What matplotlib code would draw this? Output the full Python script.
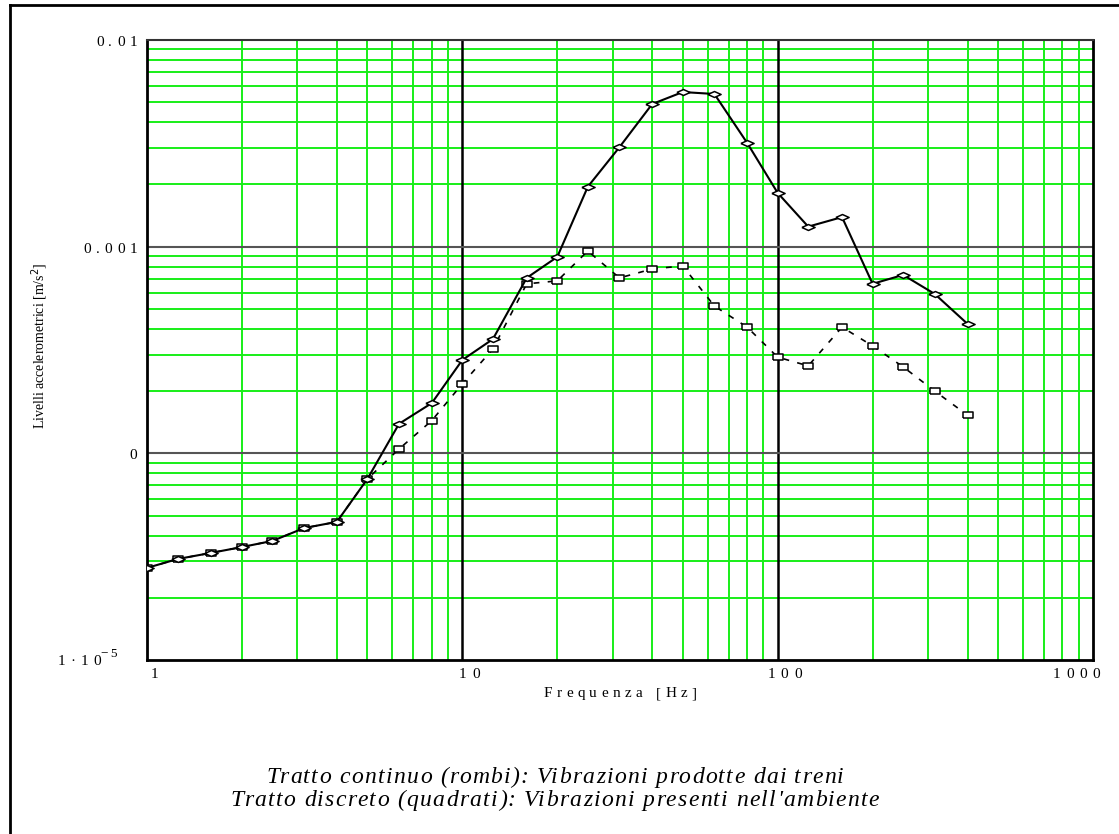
import matplotlib
matplotlib.use("Agg")
import matplotlib.pyplot as plt
from matplotlib.lines import Line2D
from matplotlib.transforms import IdentityTransform
from matplotlib.font_manager import FontProperties
from matplotlib.ticker import FixedLocator, NullFormatter

freq = [1, 1.25, 1.6, 2, 2.5, 3.15, 4, 5, 6.3, 8, 10, 12.5, 16, 20, 25, 31.5,
        40, 50, 63, 80, 100, 125, 160, 200, 250, 315, 400]
treni = [2.79e-5, 3.08e-5, 3.30e-5, 3.52e-5, 3.77e-5, 4.35e-5, 4.66e-5, 7.52e-5,
         1.39e-4, 1.75e-4, 2.83e-4, 3.57e-4, 7.06e-4, 8.92e-4, 1.95e-3, 3.03e-3,
         4.90e-3, 5.60e-3, 5.48e-3, 3.18e-3, 1.82e-3, 1.25e-3, 1.39e-3, 6.61e-4,
         7.30e-4, 5.90e-4, 4.23e-4]
ambiente = [2.79e-5, 3.08e-5, 3.30e-5, 3.52e-5, 3.77e-5, 4.35e-5, 4.66e-5, 7.52e-5,
            1.05e-4, 1.44e-4, 2.17e-4, 3.20e-4, 6.61e-4, 6.83e-4, 9.53e-4, 7.06e-4,
            7.80e-4, 8.07e-4, 5.16e-4, 4.08e-4, 2.92e-4, 2.65e-4, 4.08e-4, 3.31e-4,
            2.62e-4, 2.00e-4, 1.53e-4]

x_ticks = [1, 10, 100, 1000]
x_labels = ["1", "10", "100", "1000"]
y_ticks = [1e-2, 1e-3, 1e-4]
y_labels = ["0.01", "0.001", "0"]
y_min_label = "1·10"
y_min_exp = "−5"

xlabel = "Frequenza [Hz]"
ylabel = "Livelli accelerometrici [m/s$^2$]"
caption1 = "Tratto continuo (rombi): Vibrazioni prodotte dai treni"
caption2 = "Tratto discreto (quadrati): Vibrazioni presenti nell'ambiente"

W, H = 1119, 834
fig = plt.figure(figsize=(W / 100, H / 100), dpi=100)
ax = fig.add_axes([147 / W, 1 - 660 / H, (1093 - 147) / W, (660 - 40) / H])
ax.set_xscale("log")
ax.set_yscale("log")
ax.set_xlim(1, 1000)
ax.set_ylim(1e-5, 1e-2)

green = "#18ee18"
for d in [1, 10, 100]:
    for m in range(2, 10):
        ax.axvline(d * m, color=green, lw=1.4, zorder=1)
for d in [1e-5, 1e-4, 1e-3]:
    for m in range(2, 10):
        ax.axhline(d * m, color=green, lw=1.4, zorder=1)
for v in [10, 100]:
    ax.axvline(v, color="black", lw=1.8, zorder=1.5)
for v in [1e-4, 1e-3]:
    ax.axhline(v, color="#555555", lw=1.5, zorder=1.5)

diamond = [(-1, 0), (0, 0.45), (1, 0), (0, -0.45), (-1, 0)]
rect = [(-1, -0.55), (1, -0.55), (1, 0.55), (-1, 0.55), (-1, -0.55)]
ax.plot(freq, ambiente, color="black", lw=1.2, ls=(0, (3.5, 5)), marker=rect,
        markersize=7, markerfacecolor="white", markeredgecolor="black",
        markeredgewidth=1.1, zorder=3)
ax.plot(freq, treni, color="black", lw=1.5, marker=diamond, markersize=9.5,
        markerfacecolor="white", markeredgecolor="black", markeredgewidth=1.1,
        zorder=4)

ax.xaxis.set_major_locator(FixedLocator(x_ticks))
ax.yaxis.set_major_locator(FixedLocator(y_ticks))
for a in (ax.xaxis, ax.yaxis):
    a.set_major_formatter(NullFormatter())
    a.set_minor_formatter(NullFormatter())
ax.tick_params(which="both", length=0)

for s in ["left", "bottom", "right"]:
    ax.spines[s].set_linewidth(2)
    ax.spines[s].set_color("black")
ax.spines["top"].set_linewidth(1.5)
ax.spines["top"].set_color("#333333")

renderer = fig.canvas.get_renderer()
serif = FontProperties(family="Liberation Serif", size=11)
serif_sup = FontProperties(family="Liberation Serif", size=9.5)


def tracked(s, x, y, track, prop, ha="center", **kw):
    """Draw s with extra letter spacing; x,y are display px (y up), y is baseline."""
    def w(t):
        return renderer.get_text_width_height_descent(t, prop, ismath=False)[0]
    offs = []
    for i, ch in enumerate(s):
        offs.append(w(s[:i + 1]) - w(ch) + i * track if ch != " " else None)
    total = w(s) + (len(s) - 1) * track
    x0 = {"center": x - total / 2, "right": x - total, "left": x}[ha]
    for ch, o in zip(s, offs):
        if o is None:
            continue
        fig.text(x0 + o, y, ch, fontproperties=prop, ha="left", va="baseline",
                 transform=IdentityTransform(), **kw)
    return x0 + total


def disp(xv, yv):
    return ax.transData.transform((xv, yv))

# x tick labels
for i, (v, lab) in enumerate(zip(x_ticks, x_labels)):
    px, _ = disp(v, 1e-5)
    if i == len(x_ticks) - 1:
        tracked(lab, px + 7, H - 678, 5.5, serif, ha="right")
    else:
        tracked(lab, px + 7, H - 678, 5.5, serif, ha="center")

# y tick labels
for v, lab in zip(y_ticks, y_labels):
    _, py = disp(1, v)
    tracked(lab, 137, py - 6, 4.8, serif, ha="right")
_, py = disp(1, 1e-5)
tracked(y_min_label, 101, py - 5, 5, serif, ha="right")
tracked(y_min_exp, 100, py + 3, 2.5, serif_sup, ha="left")

# axis labels
tracked(xlabel, 620, H - 697, 4.5, FontProperties(family="Liberation Serif", size=11))
fig.text(40 / W, 1 - 346 / H, ylabel, family="Liberation Serif", fontsize=10,
         ha="center", va="center", rotation=90)

# captions
cap_prop = FontProperties(family="Liberation Serif", style="italic", size=17)
tracked(caption1, 555, H - 783, 1.3, cap_prop, ha="center")
tracked(caption2, 555, H - 806, 1.3, cap_prop, ha="center")

# outer frame (left and top edges)
fig.add_artist(Line2D([10 / W, 10 / W], [0, 1 - 5 / H], color="black", lw=2,
                      transform=fig.transFigure))
fig.add_artist(Line2D([10 / W, 1], [1 - 5 / H, 1 - 5 / H], color="black", lw=2,
                      transform=fig.transFigure))

fig.savefig("out.png", dpi=100, facecolor="white")
